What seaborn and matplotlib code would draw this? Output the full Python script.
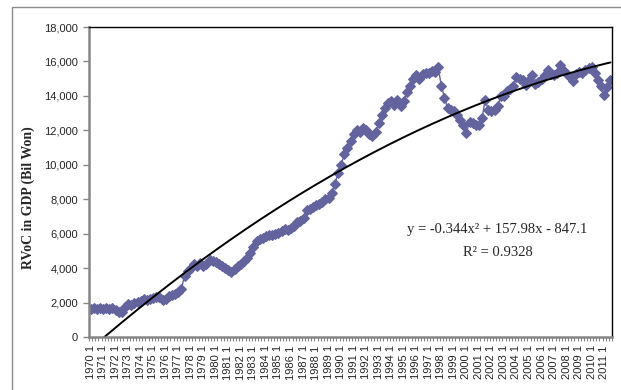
import matplotlib
matplotlib.use("Agg")
import matplotlib.pyplot as plt
import numpy as np
import pandas as pd
import seaborn as sns
from matplotlib.patches import Rectangle
from matplotlib.ticker import FixedLocator, FuncFormatter, MultipleLocator

# Quarterly RVoC in GDP (billion won), 1970 Q1 - 2011 Q3
rvoc_1970s = [
    1650, 1700, 1620, 1680,   # 1970
    1650, 1700, 1640, 1680,   # 1971
    1550, 1450, 1480, 1750,   # 1972
    1900, 1850, 2000, 2050,   # 1973
    2100, 2200, 2150, 2200,   # 1974
    2250, 2350, 2300, 2150,   # 1975
    2200, 2400, 2450, 2500,   # 1976
    2600, 2800, 3550, 3850,   # 1977
    4000, 4250, 4100, 4300,   # 1978
    4150, 4250, 4450, 4400,   # 1979
]
rvoc_1980s = [
    4350, 4250, 4100, 4000,   # 1980
    3900, 3800, 3950, 4100,   # 1981
    4250, 4400, 4600, 4850,   # 1982
    5250, 5600, 5700, 5750,   # 1983
    5850, 5950, 5900, 6000,   # 1984
    6050, 6150, 6250, 6200,   # 1985
    6350, 6450, 6650, 6750,   # 1986
    6900, 7350, 7450, 7550,   # 1987
    7650, 7750, 7850, 8000,   # 1988
    8050, 8350, 8900, 9500,   # 1989
]
rvoc_1990s = [
    10000, 10600, 11000, 11400,   # 1990
    11800, 12000, 11900, 12150,   # 1991
    12000, 11800, 11650, 11900,   # 1992
    12400, 12900, 13300, 13600,   # 1993
    13700, 13500, 13750, 13400,   # 1994
    13700, 14200, 14600, 15000,   # 1995
    15200, 15000, 15300, 15350,   # 1996
    15350, 15450, 15400, 15650,   # 1997
    14600, 13900, 13300, 13200,   # 1998
    13100, 12900, 12600, 12300,   # 1999
]
rvoc_2000s = [
    11850, 12500, 12400, 12300,   # 2000
    12300, 12700, 13750, 13200,   # 2001
    13100, 13200, 13400, 14000,   # 2002
    14000, 14300, 14400, 14600,   # 2003
    15100, 15000, 14900, 14650,   # 2004
    14900, 15200, 14700, 14800,   # 2005
    15000, 15200, 15500, 15250,   # 2006
    15200, 15350, 15800, 15500,   # 2007
    15300, 15100, 14850, 15300,   # 2008
    15400, 15350, 15500, 15600,   # 2009
]
rvoc_2010s = [
    15650, 15350, 14900, 14600,   # 2010
    14050, 14500, 14900,          # 2011
]

# Polynomial trend (order 2) as reported on the chart
trend_a, trend_b, trend_c = -0.344, 157.98, -847.1
trend_label = "y = -0.344x\u00b2 + 157.98x - 847.1"
r2_label = "R\u00b2 = 0.9328"

values = rvoc_1970s + rvoc_1980s + rvoc_1990s + rvoc_2000s + rvoc_2010s
years = list(range(1970, 2012))
period_labels = [f"{y} {q}" for y in years for q in range(1, 5)][: len(values)]

df = pd.DataFrame({"idx": np.arange(len(values)), "period": period_labels, "rvoc": values})

sns.set_style("white")
plt.rcParams["font.family"] = ["Liberation Sans", "DejaVu Sans"]

series_color = "#63649E"
axis_gray = "#868686"

fig = plt.figure(figsize=(6.21, 3.90), dpi=100)
ax = fig.add_axes([89 / 621, 1 - 337 / 390, (612 - 89) / 621, (337 - 27) / 390])

sns.lineplot(
    data=df, x="idx", y="rvoc", ax=ax,
    color=series_color, linewidth=1.0,
    marker="D", markersize=5.6,
    markerfacecolor=series_color, markeredgecolor=series_color,
)

# Trend line evaluated over the category positions (x = 1..N)
xt = np.linspace(1, len(values), 400)
yt = trend_a * xt ** 2 + trend_b * xt + trend_c
ax.plot(xt - 1, yt, color="black", linewidth=1.4)

ax.set_xlim(-0.5, len(values) - 0.5)
ax.set_ylim(0, 18000)

# y axis
ax.yaxis.set_major_locator(MultipleLocator(2000))
ax.yaxis.set_major_formatter(FuncFormatter(lambda v, p: f"{int(v):,}"))
ax.tick_params(axis="y", which="major", direction="out", length=4, width=1,
               color=axis_gray, labelsize=8, pad=4, left=True)

# x axis: labels every fourth quarter, ticks between every category
label_pos = df["idx"].values[::4]
ax.xaxis.set_major_locator(FixedLocator(label_pos))
ax.set_xticklabels(df["period"].values[::4], rotation=90, fontsize=8)
ax.xaxis.set_minor_locator(FixedLocator(np.arange(-0.5, len(values), 1)))
ax.tick_params(axis="x", which="major", length=0, pad=6, bottom=True)
ax.tick_params(axis="x", which="minor", direction="out", length=3, width=0.8,
               color=axis_gray, bottom=True)

ax.set_xlabel("")
ax.set_ylabel("")

for side in ("left", "bottom"):
    ax.spines[side].set_color(axis_gray)
    ax.spines[side].set_linewidth(1.8)
for side in ("top", "right"):
    ax.spines[side].set_color("black")
    ax.spines[side].set_linewidth(1.0)

fig.text(28 / 621, 1 - 198 / 390, "RVoC in GDP (Bil Won)", rotation=90,
         ha="center", va="center", fontsize=10, fontweight="bold",
         family=["Liberation Serif", "DejaVu Serif"])

fig.text(497 / 621, 1 - 230 / 390, trend_label, ha="center", va="center",
         fontsize=10.5, family=["Liberation Serif", "DejaVu Serif"])
fig.text(498 / 621, 1 - 253 / 390, r2_label, ha="center", va="center",
         fontsize=10.5, family=["Liberation Serif", "DejaVu Serif"])

# outer chart frame
fig.add_artist(Rectangle((12 / 621, -0.1), 1.2, 1 - 7 / 390 + 0.1,
                         transform=fig.transFigure, fill=False,
                         edgecolor="#8c8c8c", linewidth=1.0))

fig.savefig("out.png", dpi=100)
